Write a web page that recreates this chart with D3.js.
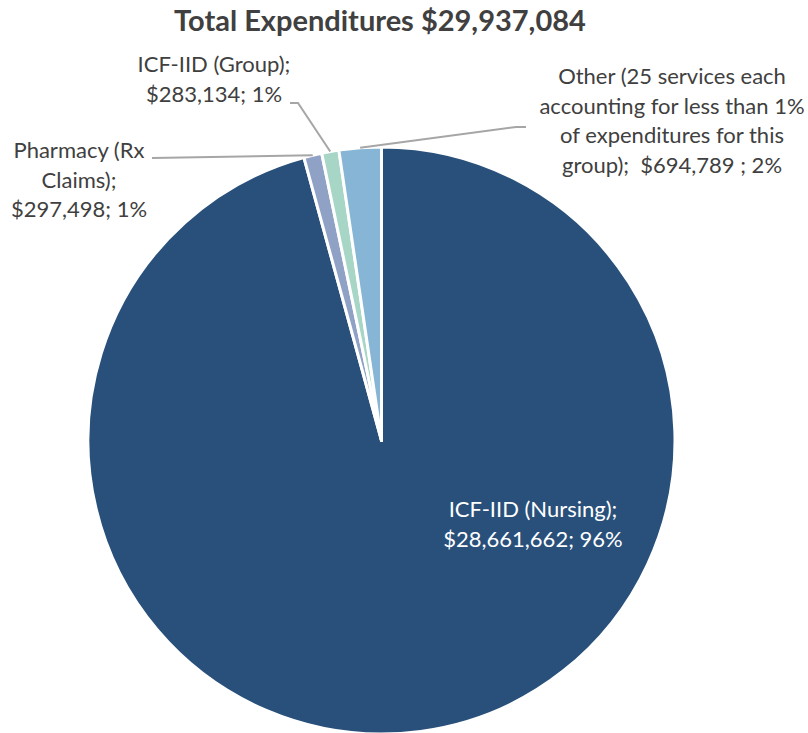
<!DOCTYPE html>
<html>
<head>
<meta charset="utf-8">
<script src="https://cdn.jsdelivr.net/npm/d3@7"></script>
<style>
  body { margin: 0; background: #fff; }
  svg text { font-family: Lato, "Open Sans", sans-serif; white-space: pre; }
</style>
</head>
<body>
<svg class="pie-chart" width="808" height="733"></svg>
<script>
const title = 'Total Expenditures $29,937,084';
const categories = ['ICF-IID (Nursing)', 'Pharmacy (Rx Claims)', 'ICF-IID (Group)', 'Other'];
const values = [28661662, 297498, 283134, 694789];
const labelLines = [
  ['ICF-IID (Nursing);', '$28,661,662; 96%'],
  ['Pharmacy (Rx', 'Claims);', '$297,498; 1%'],
  ['ICF-IID (Group);', '$283,134; 1%'],
  ['Other (25 services each', 'accounting for less than 1%', 'of expenditures for this', 'group);  $694,789 ; 2%'],
];
const colors = ['#28507b', '#8fa2c6', '#a7d6c6', '#86b5d6'];

const svg = d3.select('.pie-chart');
const cx = 381.5;
const cy = 440.5;
const radius = 293.5;

// title
svg.append('text')
  .attr('x', 380)
  .attr('y', 31)
  .attr('text-anchor', 'middle')
  .attr('font-size', 29)
  .attr('font-weight', 'bold')
  .attr('fill', '#404040')
  .text(title);

const pie = d3.pie().sort(null).value(d => d);
const arcs = pie(values);
const arc = d3.arc().innerRadius(0).outerRadius(radius);

const surface = svg.append('g')
  .attr('transform', `translate(${cx}, ${cy})`);

surface.selectAll('path.slice')
  .data(arcs)
  .enter()
  .append('path')
  .attr('class', 'slice')
  .attr('d', arc)
  .attr('fill', (d, i) => colors[i])
  .attr('stroke', '#fff')
  .attr('stroke-width', 3)
  .attr('stroke-linejoin', 'round');

// label layout: centre x, first baseline, and where the leader leaves the text
const labelPos = [
  { x: 533, y: 517, line: null, fill: '#fff' },
  { x: 79, y: 158, line: [[152, 158]], fill: '#404040' },
  { x: 214, y: 72, line: [[290, 103], [298, 103]], fill: '#404040' },
  { x: 672, y: 84, line: [[526, 127], [516, 127]], fill: '#404040' },
];
const lineHeight = 29.5;

// leader lines to the slice edge
arcs.forEach((d, i) => {
  const pos = labelPos[i];
  if (!pos.line) return;
  const mid = (d.startAngle + d.endAngle) / 2;
  const end = [cx + radius * Math.sin(mid), cy - radius * Math.cos(mid)];
  svg.append('path')
    .attr('d', d3.line()(pos.line.concat([end])))
    .attr('fill', 'none')
    .attr('stroke', '#a6a6a6')
    .attr('stroke-width', 2);
});

// data labels
labelLines.forEach((lines, i) => {
  const pos = labelPos[i];
  const t = svg.append('text')
    .attr('text-anchor', 'middle')
    .attr('font-size', 22)
    .attr('fill', pos.fill);
  lines.forEach((s, j) => {
    t.append('tspan')
      .attr('x', pos.x)
      .attr('y', pos.y + j * lineHeight)
      .text(s);
  });
});
</script>
</body>
</html>
